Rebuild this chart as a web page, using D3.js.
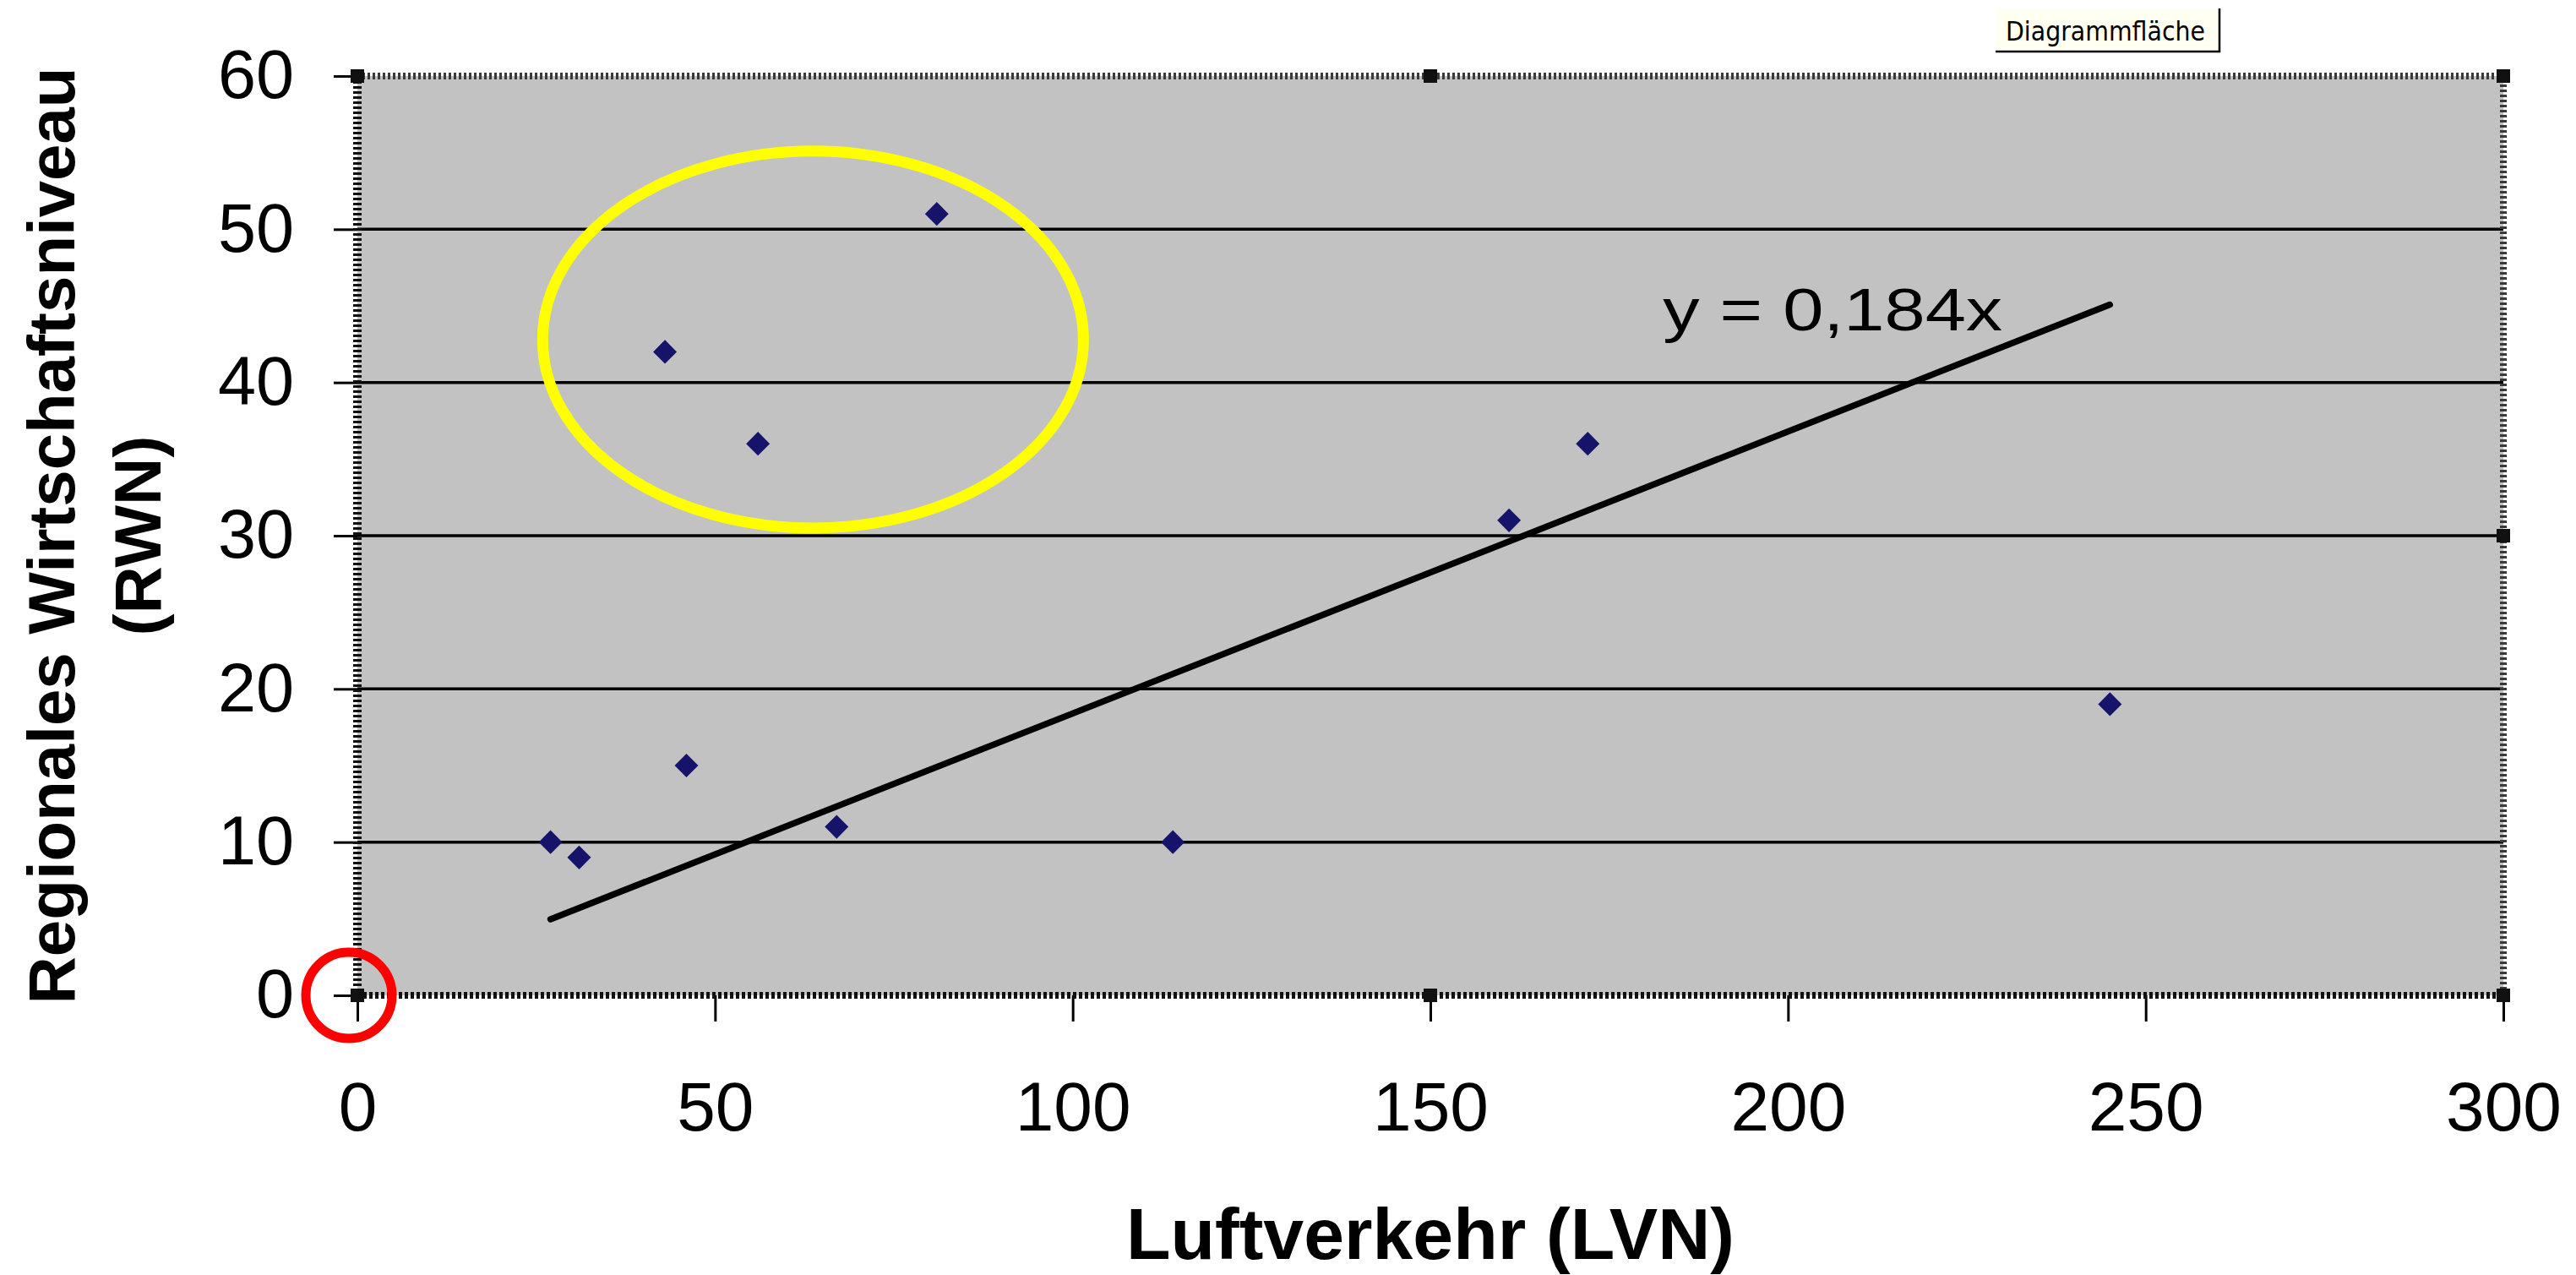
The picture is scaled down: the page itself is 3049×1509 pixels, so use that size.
<!DOCTYPE html>
<html lang="de">
<head>
<meta charset="utf-8">
<title>Luftverkehr und regionales Wirtschaftsniveau</title>
<script src="https://cdn.jsdelivr.net/npm/d3@7"></script>
<style>
  html, body { margin: 0; padding: 0; background: #ffffff; }
  svg { display: block; font-family: "Liberation Sans", Arial, sans-serif; }
</style>
</head>
<body>
<svg id="chart" width="3049" height="1509"></svg>
<script>
// Regions: air traffic index (LVN) vs. regional economic level (RWN)
const lvn = [27, 31, 43, 46, 56, 67, 81, 114, 161, 172, 245];
const rwn = [10, 9, 42, 15, 36, 11, 51, 10, 31, 36, 19];

// Linear trend through the origin
const slope = 0.184;
const trendLabel = "y = 0,184x";

// Axis ticks
const xTicks = [0, 50, 100, 150, 200, 250, 300];
const yTicks = [0, 10, 20, 30, 40, 50, 60];
const xTitle = "Luftverkehr (LVN)";
const yTitleLines = ["Regionales Wirtschaftsniveau", "(RWN)"];
const tipText = "Diagrammfläche";

// Highlighted group (centre and half-axes in data units)
const highlight = { cx: 63.7, cy: 42.8, rx: 37.8, ry: 12.3 };

const svg = d3.select("#chart");
const plot = { left: 423, right: 2963, top: 90, bottom: 1178 };

const x = d3.scaleLinear().domain([0, 300]).range([plot.left, plot.right]);
const y = d3.scaleLinear().domain([0, 60]).range([plot.bottom, plot.top]);

// Plot area background
svg.append("rect")
  .attr("x", x(0)).attr("y", y(60))
  .attr("width", x(300) - x(0)).attr("height", y(0) - y(60))
  .attr("fill", "#c2c2c2");

// Horizontal gridlines
svg.append("g").selectAll("line")
  .data(yTicks.filter(v => v > 0 && v < 60))
  .join("line")
  .attr("x1", x(0)).attr("x2", x(300))
  .attr("y1", d => y(d)).attr("y2", d => y(d))
  .attr("stroke", "#000").attr("stroke-width", 3.5);

// Hatched frame of the selected plot area (top and right)
svg.append("path")
  .attr("d", `M${x(0)},${y(60)}H${x(300)}V${y(0)}`)
  .attr("fill", "none").attr("stroke", "#3a3a3a")
  .attr("stroke-width", 8).attr("stroke-dasharray", "3,3");

// Y axis
const yAxis = svg.append("g")
  .attr("transform", `translate(${x(0)},0)`)
  .call(d3.axisLeft(y).tickValues(yTicks).tickSize(28).tickPadding(47).tickFormat(d3.format("d")));
yAxis.select(".domain").remove();
yAxis.selectAll(".tick line").attr("stroke", "#000").attr("stroke-width", 3);
yAxis.selectAll(".tick text").attr("font-size", 81).attr("fill", "#000")
  .attr("font-family", "'Liberation Sans', Arial, sans-serif");

// X axis
const xAxis = svg.append("g")
  .attr("transform", `translate(0,${y(0)})`)
  .call(d3.axisBottom(x).tickValues(xTicks).tickSize(31).tickPadding(71).tickFormat(d3.format("d")));
xAxis.select(".domain").remove();
xAxis.selectAll(".tick line").attr("stroke", "#000").attr("stroke-width", 3);
xAxis.selectAll(".tick text").attr("font-size", 82).attr("fill", "#000")
  .attr("font-family", "'Liberation Sans', Arial, sans-serif");

// Axis lines drawn as dashed selection borders
svg.append("line")
  .attr("x1", x(0)).attr("x2", x(0)).attr("y1", y(60)).attr("y2", y(0))
  .attr("stroke", "#111").attr("stroke-width", 10).attr("stroke-dasharray", "3,3");
svg.append("line")
  .attr("x1", x(0)).attr("x2", x(300)).attr("y1", y(0)).attr("y2", y(0))
  .attr("stroke", "#111").attr("stroke-width", 8).attr("stroke-dasharray", "4,3");

// Selection handles on the plot area
const handles = [[0, 60], [150, 60], [300, 60], [300, 30], [300, 0], [150, 0], [0, 0]];
svg.append("g").selectAll("rect")
  .data(handles)
  .join("rect")
  .attr("x", d => x(d[0]) - 8).attr("y", d => y(d[1]) - 8)
  .attr("width", 16).attr("height", 16)
  .attr("fill", "#111");

// Trend line over the data range
const xMin = d3.min(lvn), xMax = d3.max(lvn);
svg.append("line")
  .attr("x1", x(xMin)).attr("y1", y(slope * xMin))
  .attr("x2", x(xMax)).attr("y2", y(slope * xMax))
  .attr("stroke", "#000").attr("stroke-width", 7.5).attr("stroke-linecap", "round");

svg.append("text")
  .attr("x", x(182.5)).attr("y", y(43.4))
  .attr("font-size", 70).attr("fill", "#000")
  .attr("textLength", 402).attr("lengthAdjust", "spacingAndGlyphs")
  .text(trendLabel);

// Data points (diamonds)
const diamond = d3.symbol().type(d3.symbolDiamond).size(420);
svg.append("g").selectAll("path")
  .data(lvn.map((v, i) => [v, rwn[i]]))
  .join("path")
  .attr("d", diamond)
  .attr("transform", d => `translate(${x(d[0])},${y(d[1])}) scale(1.27,0.74)`)
  .attr("fill", "#16146a");

// Yellow ellipse around the outlier group
svg.append("ellipse")
  .attr("cx", x(highlight.cx)).attr("cy", y(highlight.cy))
  .attr("rx", x(highlight.rx) - x(0)).attr("ry", y(0) - y(highlight.ry))
  .attr("fill", "none").attr("stroke", "#ffff00").attr("stroke-width", 13);

// Red circle marking the origin
svg.append("circle")
  .attr("cx", x(0) - 10).attr("cy", y(0))
  .attr("r", 51)
  .attr("fill", "none").attr("stroke", "#ff0000").attr("stroke-width", 11);

// Axis titles
svg.append("text")
  .attr("x", (x(0) + x(300)) / 2).attr("y", 1490)
  .attr("text-anchor", "middle")
  .attr("font-size", 86).attr("font-weight", "bold").attr("fill", "#000")
  .text(xTitle);

const yMid = (y(0) + y(60)) / 2;
[88, 190].forEach((bx, i) => {
  svg.append("text")
    .attr("transform", `translate(${bx},${yMid}) rotate(-90)`)
    .attr("text-anchor", "middle")
    .attr("font-size", 78).attr("font-weight", "bold").attr("fill", "#000")
    .text(yTitleLines[i]);
});

// Tooltip box
const tip = svg.append("g");
tip.append("rect")
  .attr("x", 2362).attr("y", 10).attr("width", 265).attr("height", 51)
  .attr("fill", "#fffff2");
tip.append("path")
  .attr("d", "M2362,61H2627V10")
  .attr("fill", "none").attr("stroke", "#000").attr("stroke-width", 2.5);
tip.append("text")
  .attr("x", 2374).attr("y", 48)
  .attr("font-size", 32).attr("fill", "#000")
  .attr("textLength", 236).attr("lengthAdjust", "spacingAndGlyphs")
  .attr("font-family", "'DejaVu Sans', Tahoma, sans-serif")
  .text(tipText);
</script>
</body>
</html>
